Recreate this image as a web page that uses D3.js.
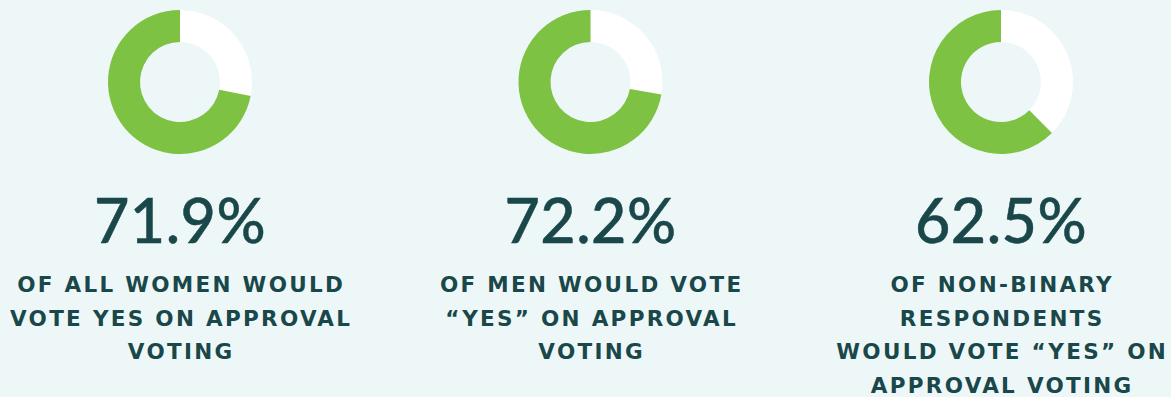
<!DOCTYPE html>
<html>
<head>
<meta charset="utf-8">
<script src="https://cdn.jsdelivr.net/npm/d3@7"></script>
<style>
  html, body { margin: 0; padding: 0; background: #eef7f8; }
  svg { display: block; }
</style>
</head>
<body>
<div id="chart"></div>
<script>
const width = 1171, height = 397;

// data
const groups = ["women", "men", "nonbinary"];
const yesShare = [71.9, 72.2, 62.5];
const valueLabels = ["71.9%", "72.2%", "62.5%"];
const captions = [
  ["OF ALL WOMEN WOULD", "VOTE YES ON APPROVAL", "VOTING"],
  ["OF MEN WOULD VOTE", "\u201CYES\u201D ON APPROVAL", "VOTING"],
  ["OF NON-BINARY", "RESPONDENTS", "WOULD VOTE \u201CYES\u201D ON", "APPROVAL VOTING"]
];

const green = "#7dc242", dark = "#1a4749";
const spacing = 2.3;

var svg = d3.select("#chart")
  .append("svg")
  .attr("width", width)
  .attr("height", height);

svg.append("rect").attr("width", width).attr("height", height).attr("fill", "#eef7f8");

const x = d3.scalePoint()
  .domain(groups)
  .range([180, 1001]);

const pie = d3.pie().sort(null).value(d => d);
const arc = d3.arc().innerRadius(40).outerRadius(72);

groups.forEach((g, i) => {
  const cell = svg.append("g").attr("transform", `translate(${x(g)},0)`);

  // donut: white (no) first, clockwise from the top, then green (yes)
  cell.append("g")
    .attr("transform", "translate(0,82)")
    .selectAll("path")
    .data(pie([100 - yesShare[i], yesShare[i]]))
    .enter().append("path")
    .attr("d", arc)
    .attr("fill", (d, j) => j === 0 ? "#ffffff" : green);

  // big percentage, a touch heavier than Lato regular
  cell.append("text")
    .attr("y", 243)
    .attr("text-anchor", "middle")
    .attr("fill", dark)
    .attr("stroke", dark)
    .attr("stroke-width", 0.5)
    .style("font-family", "Lato, 'Open Sans', sans-serif")
    .style("font-size", "61px")
    .style("font-weight", 500)
    .style("letter-spacing", "0.5px")
    .text(valueLabels[i]);

  cell.selectAll("text.cap")
    .data(captions[i])
    .enter().append("text")
    .attr("class", "cap")
    .attr("x", spacing / 2)
    .attr("y", (d, j) => 292 + j * 33.5)
    .attr("text-anchor", "middle")
    .attr("fill", dark)
    .style("font-family", "'DejaVu Sans', sans-serif")
    .style("font-size", "21.5px")
    .style("font-weight", 700)
    .style("letter-spacing", spacing + "px")
    .text(d => d);
});
</script>
</body>
</html>
